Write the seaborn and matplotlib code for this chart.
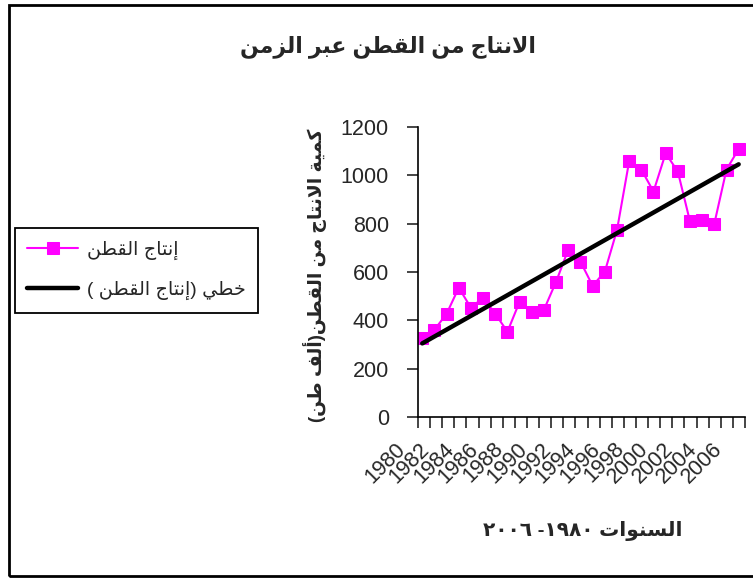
import numpy as np
import pandas as pd
import matplotlib
matplotlib.use("Agg")
import matplotlib.pyplot as plt
import seaborn as sns
from matplotlib.patches import Rectangle
from matplotlib.transforms import ScaledTranslation

# ---------------------------------------------------------------- data
years = list(range(1980, 2007))
production = [328, 361, 427, 535, 452, 494, 427, 353, 477, 436, 444, 560, 693,
              643, 543, 601, 773, 1058, 1024, 933, 1091, 1016, 809, 817, 800,
              1024, 1109]
year_labels = [str(y) for y in years[::2]]
y_ticks = [0, 200, 400, 600, 800, 1000, 1200]

title_text = "الانتاج من القطن عبر الزمن"
xlabel_text = "السنوات ١٩٨٠- ٢٠٠٦"
ylabel_text = "كمية الانتاج من القطن(ألف طن)"
series_name = "إنتاج القطن"
trend_name = "خطي (إنتاج القطن )"

# ------------------------------------------------ Arabic shaping helpers
# isolated, final, initial, medial presentation forms
FORMS = {
    "ا": (0xFE8D, 0xFE8E, None, None), "أ": (0xFE83, 0xFE84, None, None),
    "إ": (0xFE87, 0xFE88, None, None), "آ": (0xFE81, 0xFE82, None, None),
    "ب": (0xFE8F, 0xFE90, 0xFE91, 0xFE92), "ة": (0xFE93, 0xFE94, None, None),
    "ت": (0xFE95, 0xFE96, 0xFE97, 0xFE98), "ث": (0xFE99, 0xFE9A, 0xFE9B, 0xFE9C),
    "ج": (0xFE9D, 0xFE9E, 0xFE9F, 0xFEA0), "ح": (0xFEA1, 0xFEA2, 0xFEA3, 0xFEA4),
    "خ": (0xFEA5, 0xFEA6, 0xFEA7, 0xFEA8), "د": (0xFEA9, 0xFEAA, None, None),
    "ذ": (0xFEAB, 0xFEAC, None, None), "ر": (0xFEAD, 0xFEAE, None, None),
    "ز": (0xFEAF, 0xFEB0, None, None), "س": (0xFEB1, 0xFEB2, 0xFEB3, 0xFEB4),
    "ش": (0xFEB5, 0xFEB6, 0xFEB7, 0xFEB8), "ص": (0xFEB9, 0xFEBA, 0xFEBB, 0xFEBC),
    "ض": (0xFEBD, 0xFEBE, 0xFEBF, 0xFEC0), "ط": (0xFEC1, 0xFEC2, 0xFEC3, 0xFEC4),
    "ظ": (0xFEC5, 0xFEC6, 0xFEC7, 0xFEC8), "ع": (0xFEC9, 0xFECA, 0xFECB, 0xFECC),
    "غ": (0xFECD, 0xFECE, 0xFECF, 0xFED0), "ف": (0xFED1, 0xFED2, 0xFED3, 0xFED4),
    "ق": (0xFED5, 0xFED6, 0xFED7, 0xFED8), "ك": (0xFED9, 0xFEDA, 0xFEDB, 0xFEDC),
    "ل": (0xFEDD, 0xFEDE, 0xFEDF, 0xFEE0), "م": (0xFEE1, 0xFEE2, 0xFEE3, 0xFEE4),
    "ن": (0xFEE5, 0xFEE6, 0xFEE7, 0xFEE8), "ه": (0xFEE9, 0xFEEA, 0xFEEB, 0xFEEC),
    "و": (0xFEED, 0xFEEE, None, None), "ى": (0xFEEF, 0xFEF0, None, None),
    "ي": (0xFEF1, 0xFEF2, 0xFEF3, 0xFEF4),
}
LAM_ALEF = {"ا": (0xFEFB, 0xFEFC), "أ": (0xFEF7, 0xFEF8),
            "إ": (0xFEF9, 0xFEFA), "آ": (0xFEF5, 0xFEF6)}
MIRROR = {"(": ")", ")": "("}
DIGITS = set("0123456789٠١٢٣٤٥٦٧٨٩")


def joins_forward(ch):
    return ch in FORMS and FORMS[ch][2] is not None


def shape(text):
    # build contextual glyphs in logical order
    chars = list(text)
    out = []
    i = 0
    while i < len(chars):
        c = chars[i]
        prev = chars[i - 1] if i > 0 else ""
        if c == "ل" and i + 1 < len(chars) and chars[i + 1] in LAM_ALEF:
            iso, fin = LAM_ALEF[chars[i + 1]]
            out.append(chr(fin if joins_forward(prev) else iso))
            i += 2
            continue
        if c in FORMS:
            nxt = chars[i + 1] if i + 1 < len(chars) else ""
            iso, fin, ini, med = FORMS[c]
            p = joins_forward(prev)
            n = ini is not None and nxt in FORMS
            if p and n:
                g = med
            elif p:
                g = fin
            elif n:
                g = ini
            else:
                g = iso
            out.append(chr(g))
        else:
            out.append(c)
        i += 1
    # right-to-left visual order, keeping digit runs left-to-right
    vis = [MIRROR.get(c, c) for c in reversed(out)]
    res, run = [], []
    for c in vis:
        if c in DIGITS:
            run.append(c)
        else:
            res.extend(reversed(run))
            run = []
            res.append(c)
    res.extend(reversed(run))
    return "".join(res)


# ---------------------------------------------------------------- style
sns.set_style("white")
plt.rcParams["font.family"] = ["Liberation Sans", "DejaVu Sans"]
plt.rcParams["axes.linewidth"] = 1.2

W, H = 753, 579
fig = plt.figure(figsize=(W / 100, H / 100), dpi=100)
ax = fig.add_axes([418 / W, 1 - 417 / H, 327 / W, 290 / H])

df = pd.DataFrame({"idx": np.arange(len(years)), "year": years,
                   "production": production})

sns.lineplot(data=df, x="idx", y="production", ax=ax, color="#FF00FF",
             linewidth=1.5, marker="s", markersize=8.5,
             markerfacecolor="#FF00FF", markeredgecolor="#FF00FF",
             label=shape(series_name))
sns.regplot(data=df, x="idx", y="production", ax=ax, scatter=False, ci=None,
            truncate=True, color="black", line_kws={"linewidth": 3.2},
            label=shape(trend_name))

# ---------------------------------------------------------------- axes
x0, x1 = -0.35, 26.52
ax.set_xlim(x0, x1)
ax.set_ylim(0, 1200)
ax.set_yticks(y_ticks)
ax.set_yticklabels([str(v) for v in y_ticks], fontsize=15.5)
ax.tick_params(axis="y", direction="out", length=8, width=1.2, pad=13,
               left=True)

ax.set_xticks(np.linspace(x0, x1, len(years) + 1))
ax.set_xticklabels([])
ax.tick_params(axis="x", which="major", direction="out", length=8,
               width=1.2, bottom=True)
ax.set_xticks(df["idx"].values[::2], minor=True)
ax.set_xticklabels(year_labels, minor=True, fontsize=15.5, rotation=45,
                   ha="right", va="center", rotation_mode="anchor")
ax.tick_params(axis="x", which="minor", length=0, pad=0)
shift = ScaledTranslation(-0.20, -0.29, fig.dpi_scale_trans)
for lab in ax.get_xticklabels(minor=True):
    lab.set_transform(lab.get_transform() + shift)

for side in ("top", "right"):
    ax.spines[side].set_visible(False)
for side in ("left", "bottom"):
    ax.spines[side].set_color("black")

ax.set_xlabel(shape(xlabel_text), fontsize=14.5, fontweight="bold",
              ha="center", va="center")
ax.xaxis.set_label_coords(0.505, -0.393)
ax.set_ylabel(shape(ylabel_text), fontsize=13.5, fontweight="bold",
              ha="center", va="center")
ax.yaxis.set_label_coords(-0.315, 0.49)

fig.text(388 / W, 1 - 47 / H, shape(title_text), fontsize=15.8,
         fontweight="bold", ha="center", va="center")

# ---------------------------------------------------------------- legend
handles, labels = ax.get_legend_handles_labels()
if ax.get_legend() is not None:
    ax.get_legend().remove()
leg = fig.legend(handles, labels, loc="upper left",
                 bbox_to_anchor=(15 / W, 1 - 228 / H), fontsize=13.8,
                 frameon=True, fancybox=False, shadow=False,
                 edgecolor="black", framealpha=1, handlelength=2.65,
                 handletextpad=0.45, labelspacing=1.12, borderpad=0.65,
                 borderaxespad=0)
leg.get_frame().set_linewidth(1.3)

# chart border
fig.patches.append(Rectangle((9 / W, 1 - 576 / H), 1.2, (576 - 5) / H,
                             transform=fig.transFigure, fill=False,
                             edgecolor="black", linewidth=2))

fig.savefig("out.png", dpi=100)
